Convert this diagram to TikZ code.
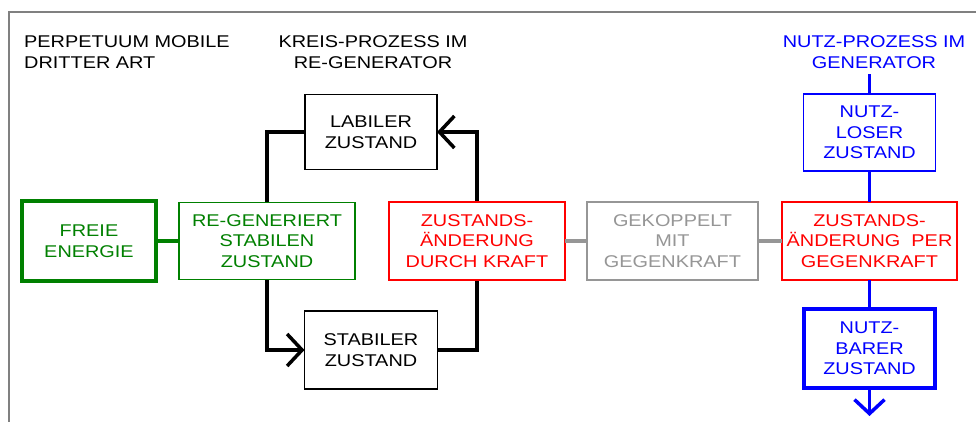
\documentclass[tikz,border=0pt]{standalone}
\usepackage{fontspec}
\setmainfont[FakeStretch=1.17]{Liberation Sans}
\usetikzlibrary{positioning,arrows.meta,backgrounds}

\definecolor{dgreen}{RGB}{0,128,0}
\definecolor{lgray}{RGB}{150,150,150}
\definecolor{fgray}{RGB}{128,128,128}

\tikzset{
	box/.style={draw=#1, text=#1, fill=white, line width=1.6pt, align=center, inner sep=0pt, outer sep=0pt},
	box/.default=black,
	title/.style={inner sep=0pt},
	loopline/.style={line width=3.5pt, -{Straight Barb[length=15pt,width=32pt,line width=3.5pt]}},
	bline/.style={blue, line width=3.5pt},
	gline/.style={dgreen, line width=3.5pt},
	grayline/.style={lgray, line width=3.5pt},
}

\begin{document}
\begin{tikzpicture}[x=1pt, y=-1pt, font=\fontsize{17}{20.5}\selectfont]
	\useasboundingbox (0,0) rectangle (976,421);
	\draw[fgray, line width=2pt] (9,430) |- (990,12);
	% titles
	\node[title, anchor=west, align=left] (perp) at (24,52) {PERPETUUM MOBILE\\DRITTER ART};
	\node[title, align=center] (kreis) at (373,52) {KREIS-PROZESS IM\\RE-GENERATOR};
	\node[title, align=center, blue] (nutz) at (874,52) {NUTZ-PROZESS IM\\GENERATOR};
	% middle row
	\node[box=dgreen, line width=3.2pt, minimum width=134pt, minimum height=80pt] (freie) at (89,241) {FREIE\\ENERGIE};
	\node[box=dgreen, minimum width=176pt, minimum height=77pt, right=23pt of freie] (regen) {RE-GENERIERT\\STABILEN\\ZUSTAND};
	\node[box=red, minimum width=176pt, minimum height=78pt, right=34pt of regen] (kraft) {ZUSTANDS-\\ÄNDERUNG\\DURCH KRAFT};
	\node[box=lgray, minimum width=171pt, minimum height=78pt, right=22pt of kraft] (gekop) {GEKOPPELT\\MIT\\GEGENKRAFT};
	\node[box=red, minimum width=175pt, minimum height=78pt, right=24pt of gekop] (gegen) {ZUSTANDS-\\ÄNDERUNG\ \ PER\\GEGENKRAFT};
	% loop
	\node[box, minimum width=132pt, minimum height=75pt] (labil) at (371,132) {LABILER\\ZUSTAND};
	\node[box, minimum width=133pt, minimum height=78pt] (stabil) at (371,350) {STABILER\\ZUSTAND};
	% generator
	\node[box=blue, minimum width=132pt, minimum height=77pt, above=31pt of gegen] (nutzlos) {NUTZ-\\LOSER\\ZUSTAND};
	\node[box=blue, line width=3.2pt, minimum width=131pt, minimum height=79pt, below=29pt of gegen] (nutzbar) {NUTZ-\\BARER\\ZUSTAND};
	\coordinate[above=20pt of nutzlos.north] (gtop);
	\coordinate[below=28pt of nutzbar.south] (gend);
	\begin{scope}[on background layer]
		\draw[loopline] (labil.west) -| (regen.center) |- (stabil.west);
		\draw[loopline] (stabil.east) -| (kraft.center) |- (labil.east);
	\end{scope}
	\draw[bline, line width=2.5pt] (gtop) -- (nutzlos.north);
	\draw[bline] (nutzlos.south) -- (gegen.north);
	\draw[bline] (gegen.south) -- (nutzbar.north);
	\draw[bline, -{Straight Barb[length=14pt,width=30pt,line width=3.5pt]}] (nutzbar.south) -- (gend);
	\draw[gline] (freie) -- (regen);
	\draw[grayline] (kraft) -- (gekop);
	\draw[grayline] (gekop) -- (gegen);
\end{tikzpicture}
\end{document}
